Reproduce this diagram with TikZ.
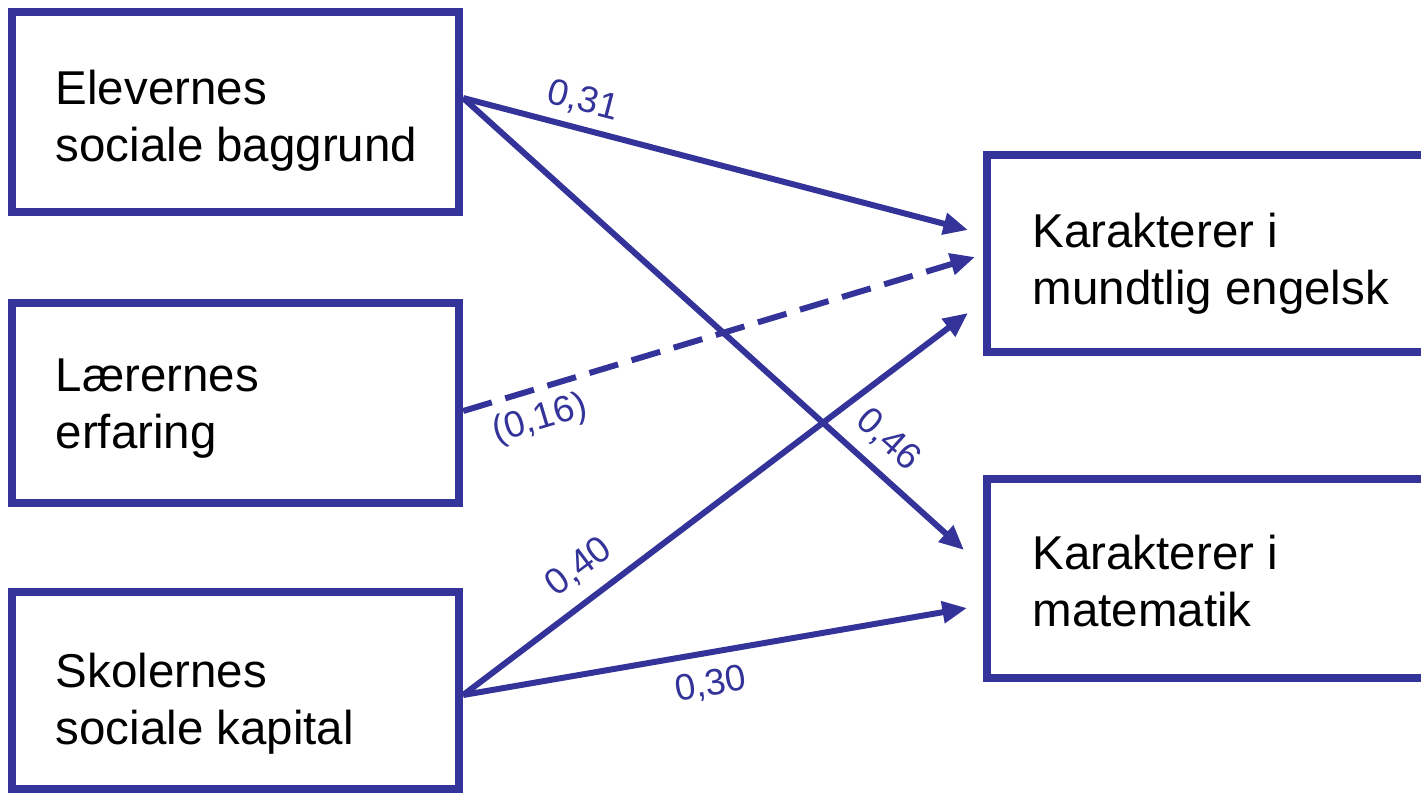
\documentclass[tikz,border=0pt]{standalone}
\usepackage{fontspec}
\setmainfont{Liberation Sans}
\usetikzlibrary{arrows.meta,calc}
\definecolor{lineblue}{RGB}{51,51,153}
\begin{document}
\begin{tikzpicture}[x=0.01cm,y=-0.01cm,
  box/.style={draw=lineblue, line width=2.3pt, minimum width=4.47cm, minimum height=1.99cm, inner sep=0pt},
  rbox/.style={box, minimum width=4.6cm},
  boxtext/.style={anchor=west, align=left, inner sep=0pt, font=\fontsize{13.5}{16.2}\selectfont, text=black},
  effect/.style={draw=lineblue, line width=1.7pt, -{Triangle[length=7pt,width=6pt]}},
  coef/.style={text=lineblue, inner sep=0pt, font=\fontsize{10.5}{12}\selectfont},
]
\useasboundingbox (0,0) rectangle (1421,793);
\clip (0,0) rectangle (1421,793);
% boxes
\node[box] (b1) at (235.5,112) {};
\node[box, minimum height=2.0cm] (b2) at (235.5,403) {};
\node[box, minimum height=1.97cm] (b3) at (235.5,690.5) {};
\node[rbox, minimum height=1.97cm] (b4) at (1217,253.5) {};
\node[rbox] (b5) at (1217,578.5) {};
% texts
\node[boxtext] (t1) at (55,121) {Elevernes\\sociale baggrund};
\node[boxtext] (t2) at (55,409) {Lærernes\\erfaring};
\node[boxtext] (t3) at (55,704) {Skolernes\\sociale kapital};
\node[boxtext] (t4) at (1032,264) {Karakterer i\\mundtlig engelsk};
\node[boxtext] (t5) at (1032,581) {Karakterer i\\matematik};
% arrow ends
\coordinate (e1) at (968,230);
\coordinate (e2) at (964,550);
\coordinate (e3) at (975,257);
\coordinate (e4) at (968,313);
\coordinate (e5) at (967,608);
% connectors
\draw[effect] ($(b1.east)+(0,-14)$) -- (e1);
\draw[effect] ($(b1.east)+(0,-14)$) -- (e2);
\draw[effect, dash pattern=on 8.5pt off 4pt] ($(b2.east)+(0,8)$) -- (e3);
\draw[effect] ($(b3.east)+(0,4.5)$) -- (e4);
\draw[effect] ($(b3.east)+(0,4.5)$) -- (e5);
% coefficients
\node[coef, rotate=-14.5] (l1) at (583,101) {0,31};
\node[coef, rotate=-41.8] (l2) at (888,440) {0,46};
\node[coef, rotate=16.6] (l3) at (540,420) {(0,16)};
\node[coef, rotate=36.9] (l4) at (579,567) {0,40};
\node[coef, rotate=9.7] (l5) at (711,685) {0,30};
\end{tikzpicture}
\end{document}
